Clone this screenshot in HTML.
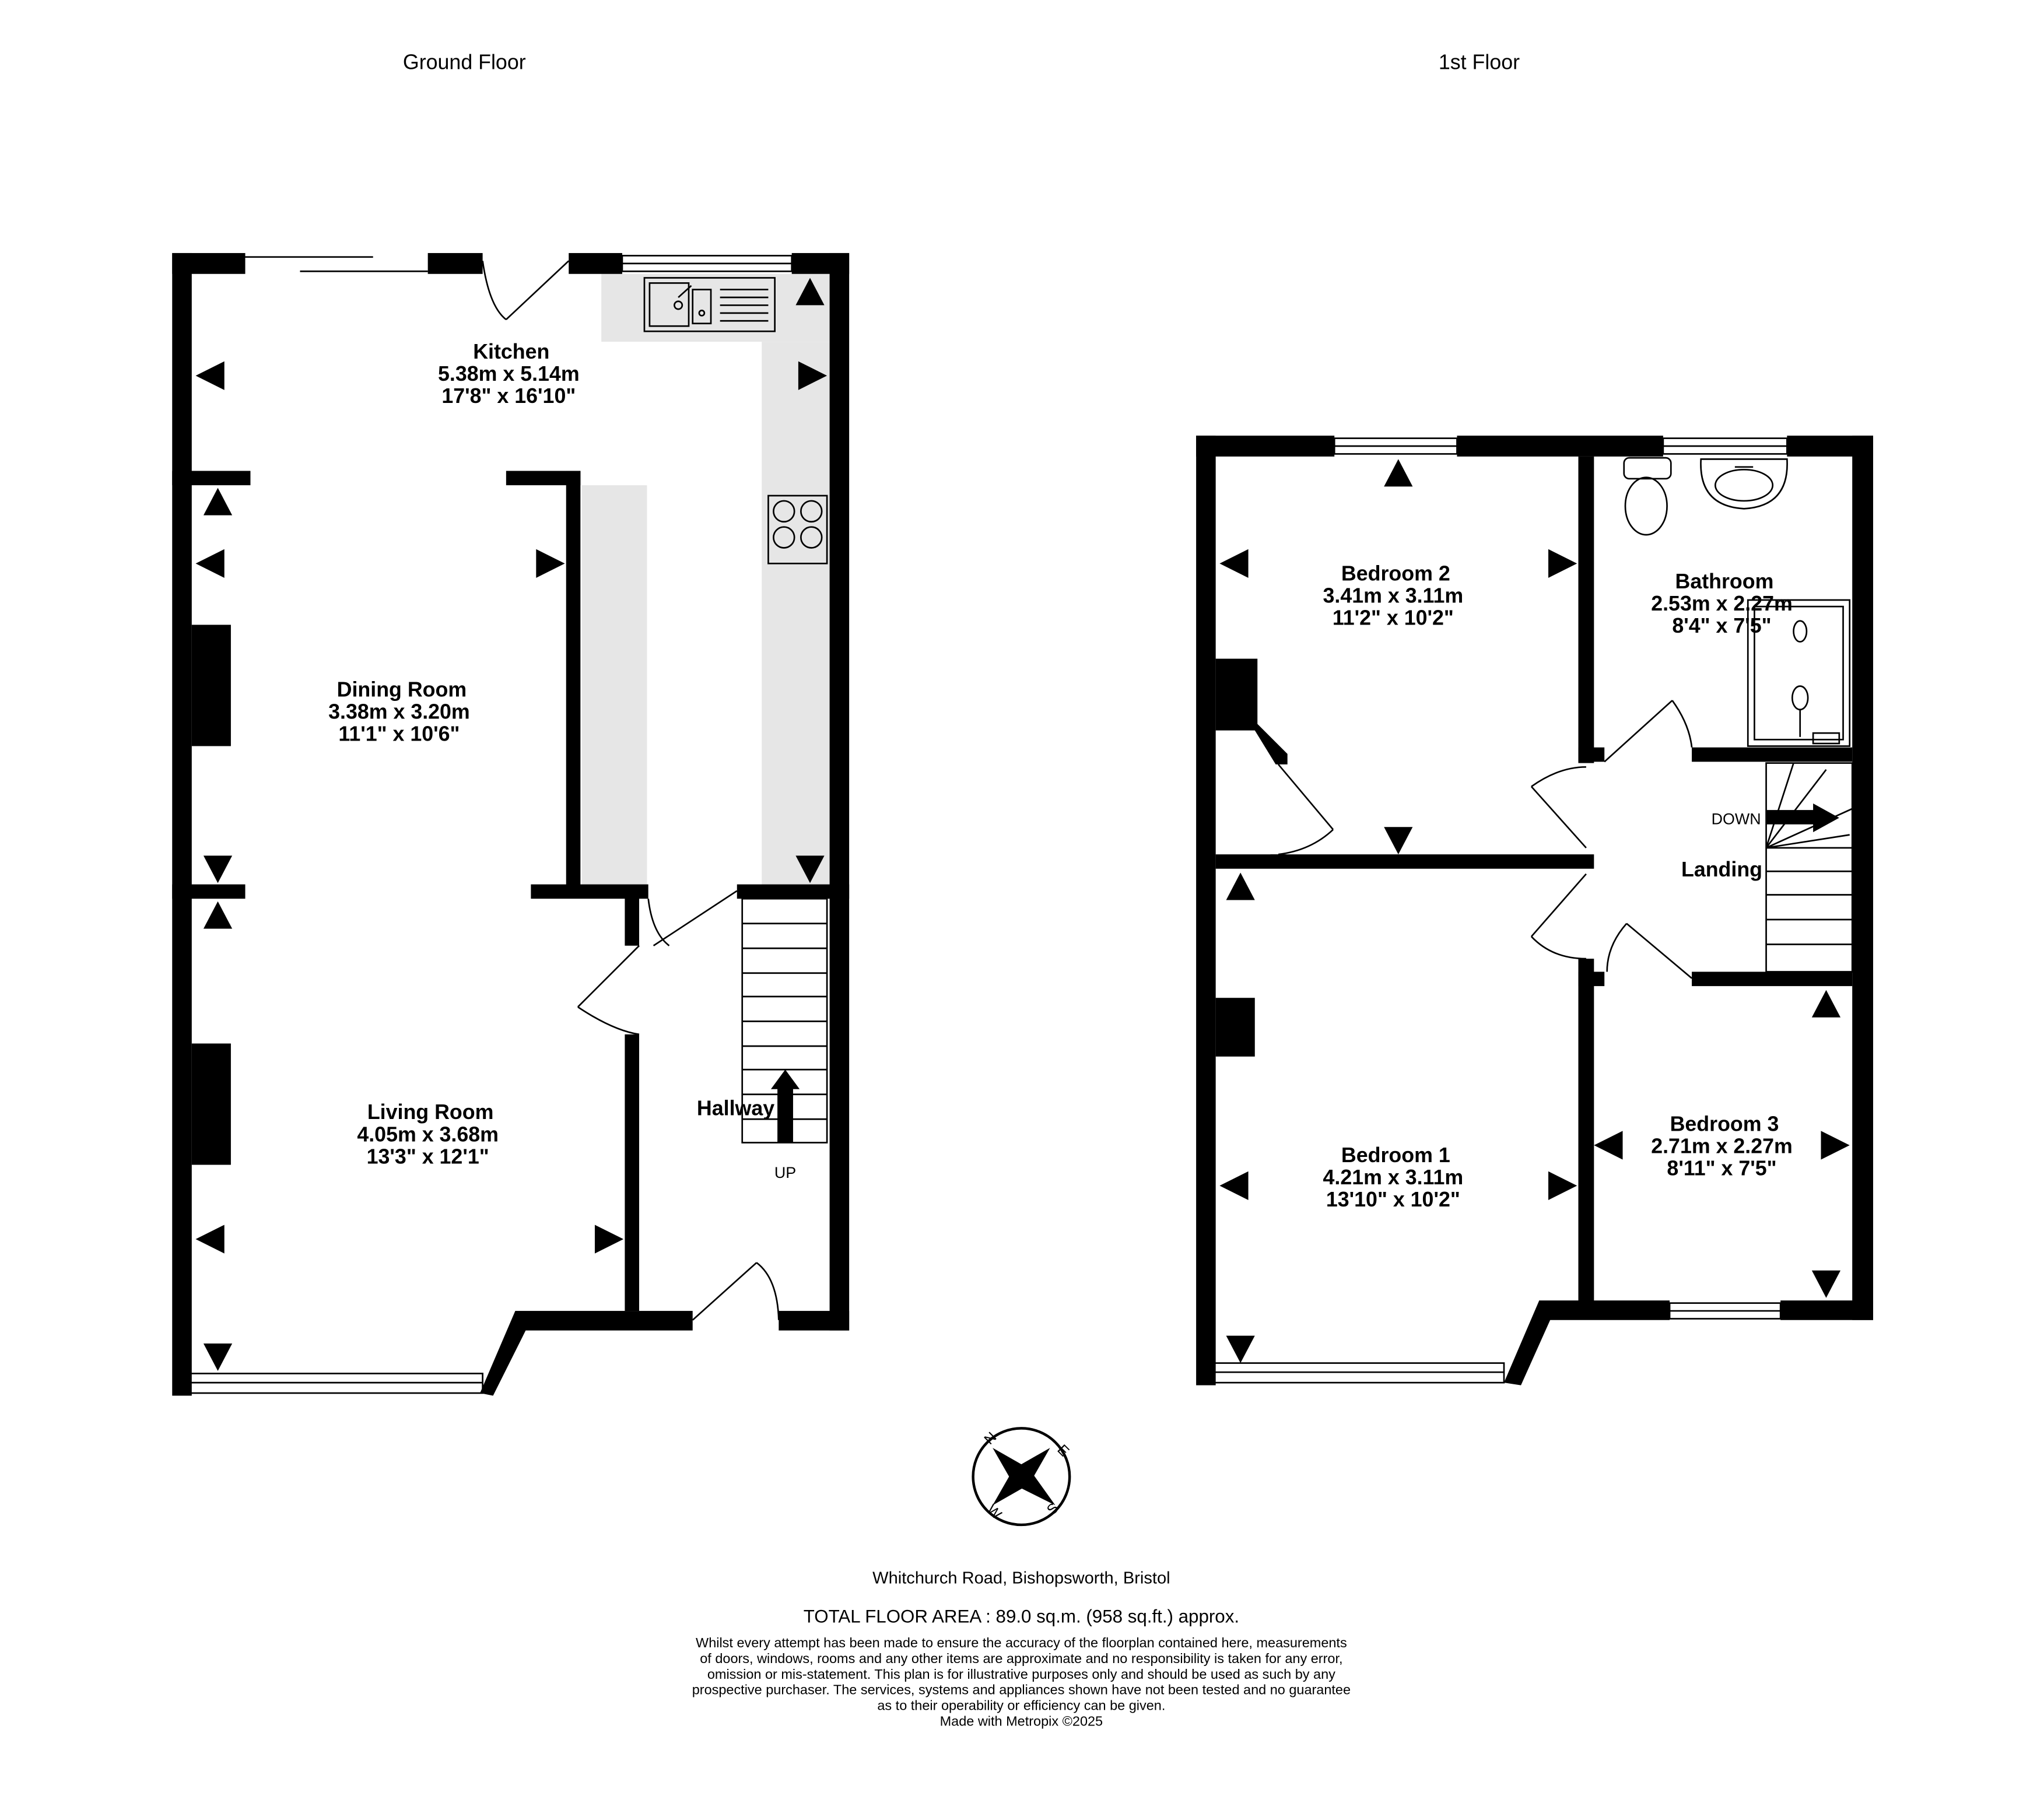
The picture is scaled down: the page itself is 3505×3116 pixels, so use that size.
<!DOCTYPE html>
<html><head><meta charset="utf-8"><style>
html,body{margin:0;padding:0;background:#fff;}
svg{display:block;}
text{font-family:"Liberation Sans",sans-serif;fill:#000;}
.b{font-weight:bold;font-size:16px;}
</style></head><body>
<svg width="3505" height="3116" viewBox="0 0 1567 1393" preserveAspectRatio="none" xmlns="http://www.w3.org/2000/svg">
<rect width="1567" height="1393" fill="#fff"/>
<text x="356" y="53" font-size="16" text-anchor="middle">Ground Floor</text>
<text x="1134" y="53" font-size="16" text-anchor="middle">1st Floor</text>

<g fill="#e6e6e6">
<rect x="461" y="210" width="175" height="52"/>
<rect x="584" y="262" width="52" height="418"/>
<rect x="446" y="372" width="50" height="308"/>
</g>
<g fill="#000">
<rect x="132" y="194" width="15" height="876"/>
<rect x="132" y="194" width="56" height="16"/>
<rect x="328" y="194" width="42" height="16"/>
<rect x="436" y="194" width="41" height="16"/>
<rect x="607" y="194" width="44" height="16"/>
<rect x="636" y="194" width="15" height="826"/>
<rect x="132" y="361" width="60" height="11"/>
<rect x="388" y="361" width="57" height="11"/>
<rect x="434" y="361" width="11" height="319"/>
<rect x="132" y="678" width="56" height="11"/>
<rect x="407" y="678" width="90" height="11"/>
<rect x="479" y="680" width="11" height="45"/>
<rect x="479" y="793" width="11" height="212"/>
<rect x="565" y="678" width="86" height="11"/>
<rect x="395" y="1005" width="136" height="15"/>
<rect x="597" y="1005" width="54" height="15"/>
<rect x="147" y="479" width="30" height="93"/>
<rect x="147" y="800" width="30" height="93"/>
<polygon points="395,1005 407,1012 378,1070 368,1068"/>
</g>
<g stroke="#000" stroke-width="1.2" fill="none">
<line x1="188" y1="197" x2="286" y2="197"/>
<line x1="230" y1="208" x2="328" y2="208"/>
<rect x="477" y="196" width="130" height="12"/>
<line x1="477" y1="202" x2="607" y2="202"/>
<rect x="145" y="1053" width="225" height="15"/>
<line x1="145" y1="1060" x2="370" y2="1060"/>
<line x1="388" y1="245" x2="436" y2="200"/>
<path d="M370,200 Q375,235 388,245"/>
<line x1="443" y1="772" x2="490" y2="725"/>
<path d="M443,772 Q470,790 490,793"/>
<line x1="501" y1="725" x2="565" y2="683"/>
<path d="M497,689 Q500,715 513,725"/>
<line x1="531" y1="1012" x2="580" y2="968"/>
<path d="M580,968 Q596,980 597,1012"/>
<rect x="569" y="689" width="65" height="187"/>
<line x1="569" y1="708" x2="634" y2="708"/><line x1="569" y1="727" x2="634" y2="727"/>
<line x1="569" y1="746" x2="634" y2="746"/><line x1="569" y1="764" x2="634" y2="764"/>
<line x1="569" y1="783" x2="634" y2="783"/><line x1="569" y1="802" x2="634" y2="802"/>
<line x1="569" y1="820" x2="634" y2="820"/><line x1="569" y1="839" x2="634" y2="839"/>
<line x1="569" y1="858" x2="634" y2="858"/>
<rect x="494" y="213" width="100" height="41"/>
<rect x="498" y="217" width="30" height="33"/>
<rect x="531" y="222" width="14" height="26"/>
<circle cx="520" cy="234" r="3"/><circle cx="538" cy="240" r="2"/>
<line x1="520" y1="228" x2="530" y2="219"/>
<line x1="552" y1="222" x2="589" y2="222"/><line x1="552" y1="228" x2="589" y2="228"/>
<line x1="552" y1="234" x2="589" y2="234"/><line x1="552" y1="240" x2="589" y2="240"/>
<line x1="552" y1="246" x2="589" y2="246"/>
<rect x="589" y="380" width="45" height="52"/>
<circle cx="601" cy="392" r="8"/><circle cx="622" cy="392" r="8"/>
<circle cx="601" cy="412" r="8"/><circle cx="622" cy="412" r="8"/>
</g>
<g fill="#000">
<rect x="596" y="834" width="12" height="42"/>
<polygon points="591,835 602,820 613,835"/>
<polygon points="610,234 632,234 621,213"/>
<polygon points="612,277 634,288 612,299"/>
<polygon points="172,277 150,288 172,299"/>
<polygon points="156,395 178,395 167,374"/>
<polygon points="172,421 150,432 172,443"/>
<polygon points="411,421 433,432 411,443"/>
<polygon points="156,656 178,656 167,677"/>
<polygon points="610,656 632,656 621,677"/>
<polygon points="156,712 178,712 167,691"/>
<polygon points="172,939 150,950 172,961"/>
<polygon points="456,939 478,950 456,961"/>
<polygon points="156,1030 178,1030 167,1051"/>
</g>
<g text-anchor="middle">
<text x="392" y="275" class="b">Kitchen</text>
<text x="390" y="292" class="b">5.38m  x 5.14m</text>
<text x="390" y="309" class="b">17'8"  x 16'10"</text>
<text x="308" y="534" class="b">Dining Room</text>
<text x="306" y="551" class="b">3.38m  x 3.20m</text>
<text x="306" y="568" class="b">11'1"  x 10'6"</text>
<text x="330" y="858" class="b">Living Room</text>
<text x="328" y="875" class="b">4.05m  x 3.68m</text>
<text x="328" y="892" class="b">13'3"  x 12'1"</text>
<text x="564" y="855" class="b">Hallway</text>
</g>
<text x="602" y="903" font-size="12" text-anchor="middle">UP</text>

<g fill="#000">
<rect x="917" y="334" width="15" height="728"/>
<rect x="917" y="334" width="106" height="16"/>
<rect x="1117" y="334" width="158" height="16"/>
<rect x="1370" y="334" width="66" height="16"/>
<rect x="1420" y="334" width="16" height="678"/>
<rect x="1210" y="350" width="12" height="235"/>
<rect x="932" y="655" width="290" height="11"/>
<rect x="1210" y="573" width="20" height="11"/>
<rect x="1297" y="573" width="123" height="11"/>
<rect x="1297" y="745" width="123" height="11"/>
<rect x="1210" y="735" width="12" height="265"/>
<rect x="1210" y="745" width="20" height="11"/>
<rect x="1180" y="997" width="100" height="15"/>
<rect x="1365" y="997" width="71" height="15"/>
<polygon points="1180,997 1192,1004 1166,1062 1153,1060"/>
<polygon points="932,505 964,505 964,555 987,578 987,586 978,586 962,560 932,560"/>
<rect x="932" y="765" width="30" height="45"/>
<rect x="974" y="655" width="12" height="8"/>
<polygon points="1061,373 1083,373 1072,352"/>
<polygon points="957,421 935,432 957,443"/>
<polygon points="1187,421 1209,432 1187,443"/>
<polygon points="1061,634 1083,634 1072,655"/>
<polygon points="940,690 962,690 951,669"/>
<polygon points="957,898 935,909 957,920"/>
<polygon points="1187,898 1209,909 1187,920"/>
<polygon points="940,1024 962,1024 951,1045"/>
<polygon points="1389,780 1411,780 1400,759"/>
<polygon points="1244,867 1222,878 1244,889"/>
<polygon points="1396,867 1418,878 1396,889"/>
<polygon points="1389,974 1411,974 1400,995"/>
<rect x="1354" y="621" width="38" height="11"/>
<polygon points="1390,616 1410,627 1390,638"/>
</g>
<g stroke="#000" stroke-width="1.2" fill="none">
<rect x="1023" y="336" width="94" height="12"/><line x1="1023" y1="342" x2="1117" y2="342"/>
<rect x="1275" y="336" width="95" height="12"/><line x1="1275" y1="342" x2="1370" y2="342"/>
<rect x="1280" y="999" width="85" height="12"/><line x1="1280" y1="1005" x2="1365" y2="1005"/>
<rect x="925" y="1045" width="228" height="15"/><line x1="925" y1="1052" x2="1153" y2="1052"/>
<line x1="980" y1="586" x2="1022" y2="636"/><path d="M1022,636 Q1005,652 980,655"/>
<line x1="1230" y1="584" x2="1282" y2="537"/><path d="M1282,537 Q1295,555 1297,573"/>
<line x1="1174" y1="603" x2="1216" y2="650"/><path d="M1174,603 Q1195,588 1216,588"/>
<line x1="1174" y1="718" x2="1216" y2="670"/><path d="M1174,718 Q1190,735 1216,735"/>
<line x1="1247" y1="708" x2="1297" y2="750"/><path d="M1247,708 Q1232,725 1232,745"/>
<rect x="1354" y="585" width="66" height="160"/>
<line x1="1354" y1="650" x2="1420" y2="650"/><line x1="1354" y1="668" x2="1420" y2="668"/>
<line x1="1354" y1="686" x2="1420" y2="686"/><line x1="1354" y1="705" x2="1420" y2="705"/>
<line x1="1354" y1="724" x2="1420" y2="724"/>
<path d="M1354,650 L1420,620 M1354,650 L1400,590 M1354,650 L1375,585 M1354,650 L1418,640"/>
<rect x="1245" y="351" width="36" height="16" rx="4"/>
<ellipse cx="1262" cy="388" rx="16" ry="22"/>
<path d="M1304,352 L1370,352 Q1372,388 1337,390 Q1302,388 1304,352 Z"/>
<ellipse cx="1337" cy="372" rx="22" ry="12"/>
<line x1="1330" y1="358" x2="1344" y2="358"/>
<rect x="1340" y="460" width="78" height="112"/>
<rect x="1345" y="465" width="68" height="102"/>
<ellipse cx="1380" cy="484" rx="5" ry="8"/>
<ellipse cx="1380" cy="535" rx="6" ry="9"/>
<line x1="1380" y1="544" x2="1380" y2="565"/>
<rect x="1390" y="562" width="20" height="8"/>
</g>
<g text-anchor="middle">
<text x="1070" y="445" class="b">Bedroom 2</text>
<text x="1068" y="462" class="b">3.41m  x 3.11m</text>
<text x="1068" y="479" class="b">11'2"  x 10'2"</text>
<text x="1322" y="451" class="b">Bathroom</text>
<text x="1320" y="468" class="b">2.53m  x 2.27m</text>
<text x="1320" y="485" class="b">8'4"  x 7'5"</text>
<text x="1320" y="672" class="b">Landing</text>
<text x="1070" y="891" class="b">Bedroom 1</text>
<text x="1068" y="908" class="b">4.21m  x 3.11m</text>
<text x="1068" y="925" class="b">13'10"  x 10'2"</text>
<text x="1322" y="867" class="b">Bedroom 3</text>
<text x="1320" y="884" class="b">2.71m  x 2.27m</text>
<text x="1320" y="901" class="b">8'11"  x 7'5"</text>
</g>
<text x="1331" y="632" font-size="12" text-anchor="middle">DOWN</text>

<circle cx="783" cy="1132" r="37" fill="none" stroke="#000" stroke-width="2"/>
<polygon points="761,1110 789,1126 809,1154 777,1138" fill="#000"/>
<polygon points="805,1110 789,1138 761,1154 777,1126" fill="#000"/>
<text x="759" y="1108" font-size="11" transform="rotate(-45 759 1108)">N</text>
<text x="810" y="1112" font-size="11" transform="rotate(45 810 1112)">E</text>
<text x="807" y="1162" font-size="11" transform="rotate(-45 807 1162)">S</text>
<text x="756" y="1158" font-size="11" transform="rotate(45 756 1158)">W</text>

<g text-anchor="middle">
<text x="783" y="1214" font-size="13">Whitchurch Road, Bishopsworth, Bristol</text>
<text x="783" y="1244" font-size="14">TOTAL FLOOR AREA : 89.0 sq.m. (958 sq.ft.) approx.</text>
<text x="783" y="1263" font-size="10.5">Whilst every attempt has been made to ensure the accuracy of the floorplan contained here, measurements</text>
<text x="783" y="1275" font-size="10.5">of doors, windows, rooms and any other items are approximate and no responsibility is taken for any error,</text>
<text x="783" y="1287" font-size="10.5">omission or mis-statement. This plan is for illustrative purposes only and should be used as such by any</text>
<text x="783" y="1299" font-size="10.5">prospective purchaser. The services, systems and appliances shown have not been tested and no guarantee</text>
<text x="783" y="1311" font-size="10.5">as to their operability or efficiency can be given.</text>
<text x="783" y="1323" font-size="10.5">Made with Metropix ©2025</text>
</g>
</svg>
</body></html>
